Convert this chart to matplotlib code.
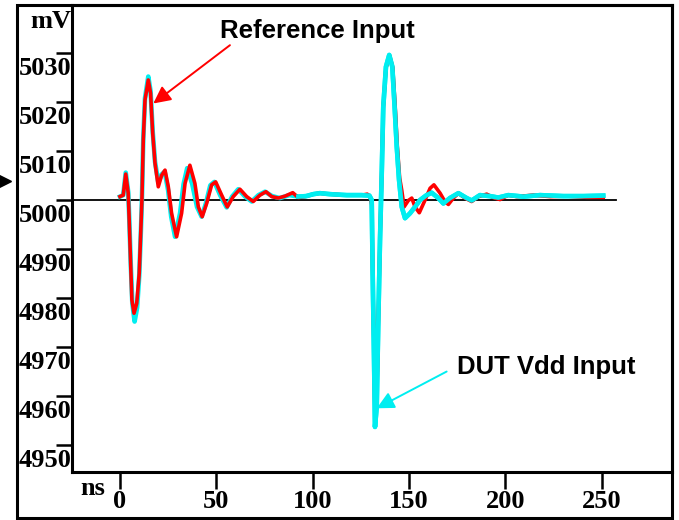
import numpy as np
import matplotlib
matplotlib.use("Agg")
import matplotlib.pyplot as plt
from matplotlib import transforms
from matplotlib.patches import Rectangle


# reference input trace (red), ns / mV
t_ref = [0.0, 1.7, 3.0, 4.3, 4.8, 5.6, 6.2, 7.3, 8.7, 10.0, 10.9, 11.4, 12.1, 13.0,
         14.7, 15.9, 17.0, 18.2, 19.9, 21.6, 23.4, 25.1, 26.8, 29.4, 32.0, 33.8, 36.3,
         38.9, 40.7, 42.7, 45.0, 47.6, 49.7, 52.8, 55.7, 58.8, 62.3, 65.8, 69.2, 72.7,
         75.8, 78.8, 82.2, 85.7, 89.7, 92.6, 96.1, 100.4, 103.8, 109.0, 117.7, 125.5,
         128.4, 130.0, 130.7, 131.2, 131.9, 132.4, 133.3, 134.1, 135.0, 135.9, 136.7,
         138.1, 140.0, 141.6, 142.9, 144.0, 145.2, 146.3, 147.5, 149.7, 151.5, 153.2,
         155.4, 158.4, 161.0, 163.0, 166.2, 168.7, 170.5, 173.1, 175.7, 179.1, 182.6,
         186.0, 190.4, 193.8, 197.3, 201.6, 206.0, 214.6, 223.3, 231.9, 242.3, 250.9]
v_ref = [5000.7, 5001.0, 5005.3, 5001.4, 4995.9, 4986.4, 4979.6, 4976.9, 4978.9, 4985.0,
         4994.6, 5000.0, 5012.2, 5020.4, 5024.5, 5021.8, 5013.6, 5007.5, 5002.7, 5005.0,
         5006.1, 5002.7, 4997.3, 4992.5, 4997.3, 5003.4, 5007.1, 5003.4, 4998.6, 4996.6,
         4999.3, 5003.1, 5003.7, 5001.0, 4998.6, 5000.7, 5002.2, 5000.7, 4999.7, 5001.0,
         5001.7, 5000.7, 5000.4, 5000.8, 5001.5, 5000.5, 5000.7, 5001.2, 5001.4, 5001.2,
         5001.0, 5001.0, 5001.2, 5000.6, 4999.0, 4986.0, 4969.0, 4955.5, 4958.5, 4974.8,
         4991.8, 5005.4, 5019.0, 5027.0, 5029.4, 5027.0, 5019.0, 5010.9, 5004.5, 5002.0,
         4998.6, 4999.9, 5000.4, 4998.6, 4997.4, 5000.0, 5002.4, 5003.1, 5001.4, 4999.7,
         4999.1, 5000.4, 5001.4, 5000.4, 4999.7, 5000.7, 5001.2, 5000.5, 5000.1, 5001.0,
         5000.7, 5001.0, 5000.7, 5000.8, 5000.55, 5000.55]

# DUT Vdd input trace (cyan)
t_dut = [0.0, 1.7, 3.0, 4.3, 4.8, 5.6, 6.4, 7.6, 8.9, 10.0, 10.9, 11.4, 12.1, 13.0,
         14.7, 15.9, 17.0, 18.2, 19.9, 21.6, 23.2, 25.0, 26.6, 28.6, 31.2, 33.0, 34.9,
         37.5, 40.0, 42.4, 44.6, 46.9, 49.0, 52.0, 55.4, 58.2, 61.4, 65.0, 68.4, 71.9,
         75.3, 79.0, 83.0, 88.0, 92.6, 96.7, 100.4, 103.8, 109.0, 117.7, 125.5, 129.5,
         130.7, 131.2, 131.9, 132.4, 133.3, 134.1, 135.0, 135.9, 136.7, 138.1, 139.8,
         141.4, 142.6, 143.7, 144.9, 146.3, 148.0, 150.6, 153.2, 155.8, 159.2, 161.8,
         165.3, 167.9, 171.3, 175.7, 180.0, 182.6, 186.9, 192.1, 196.4, 201.6, 209.4,
         218.1, 230.2, 240.6, 250.9]
v_dut = [5000.7, 5001.0, 5005.6, 5001.6, 4996.5, 4987.0, 4979.0, 4975.2, 4978.0, 4984.5,
         4994.0, 5000.0, 5012.5, 5020.8, 5025.2, 5022.2, 5014.0, 5007.8, 5003.6, 5005.2,
         5005.8, 5002.0, 4996.6, 4992.5, 4997.3, 5003.2, 5006.5, 5003.3, 4998.6, 4996.6,
         4999.3, 5003.0, 5003.7, 5001.0, 4998.5, 5000.7, 5002.2, 5000.7, 4999.7, 5001.0,
         5001.7, 5000.8, 5000.4, 5001.0, 5000.7, 5000.8, 5001.2, 5001.4, 5001.2, 5001.0,
         5001.0, 5000.9, 5000.0, 4985.1, 4968.0, 4953.7, 4957.8, 4974.8, 4991.8, 5005.4,
         5019.0, 5027.2, 5029.6, 5027.2, 5019.0, 5010.9, 5004.1, 4998.6, 4996.3, 4997.3,
         4998.6, 5000.0, 5001.0, 5001.5, 5000.4, 4999.3, 5000.4, 5001.4, 5000.4, 4999.9,
         5001.0, 5000.8, 5000.5, 5001.0, 5000.7, 5001.0, 5000.8, 5000.8, 5000.9]

x_ticks = [0, 50, 100, 150, 200, 250]
y_ticks = [4950, 4960, 4970, 4980, 4990, 5000, 5010, 5020, 5030]
baseline = 5000
trigger_level = 5003.8

RED = '#ff0000'
CYAN = '#00eef0'
serif = dict(family='Liberation Serif', weight='bold', size=19)
sans = dict(family='Liberation Sans', weight='bold', size=18.5)

W, H = 679, 520
fig = plt.figure(figsize=(W / 100, H / 100), dpi=100)
ax = fig.add_axes([72 / W, (H - 472) / H, 600 / W, 467 / H])
ax.set_xlim(-24.9, 286.6)
ax.set_ylim(4944.5, 5039.8)

for s in ax.spines.values():
    s.set_linewidth(2.2)

# outer frame around the label strips
fig.add_artist(Rectangle((17 / W, 2 / H), 655 / W, 513 / H, fill=False,
                         lw=2.2, ec='black', transform=fig.transFigure))

ax.axhline(baseline, xmin=0, xmax=0.907, color='black', lw=1.3, zorder=1)

t_dut_a = np.asarray(t_dut)
v_dut_a = np.asarray(v_dut)
late = t_dut_a >= 89

ax.plot(t_dut, v_dut, color=CYAN, lw=3.3, zorder=2, solid_joinstyle='round')
ax.plot(t_ref, v_ref, color=RED, lw=2.6, zorder=3, solid_joinstyle='round')
ax.plot(t_dut_a[late], v_dut_a[late], color=CYAN, lw=3.3, zorder=4,
        solid_joinstyle='round')

# axes ticks
ax.set_xticks(x_ticks)
ax.set_xticklabels([str(v) for v in x_ticks], fontdict=serif)
ax.tick_params(axis='x', direction='out', length=12, width=1.8, pad=1)
ax.set_yticks(y_ticks)
ax.set_yticklabels([])
ax.tick_params(axis='y', direction='out', length=11.5, width=1.8)

for v in y_ticks:
    ax.annotate(str(v), xy=(0, v), xycoords=('axes fraction', 'data'),
                xytext=(-0.5, -3), textcoords='offset points',
                ha='right', va='top', **serif)

fig.text(71 / W, 1 - 10 / H, 'mV', ha='right', va='top', **serif)
fig.text(80 / W, 1 - 495 / H, 'ns', ha='left', va='baseline', **serif)

# trigger marker on the left edge
ax.plot([-0.112], [trigger_level], marker='>', ms=8, color='black',
        transform=transforms.blended_transform_factory(ax.transAxes, ax.transData),
        clip_on=False)

arrow = dict(arrowstyle='-|>', lw=1.4, mutation_scale=26, shrinkA=0, shrinkB=0)
ax.text(102.7, 5033.0, 'Reference Input', ha='center', va='baseline', **sans)
ax.annotate('', xy=(17.3, 5019.7), xytext=(57.1, 5031.6),
            arrowprops=dict(color=RED, **arrow))
ax.annotate('', xy=(133.3, 4957.5), xytext=(169.6, 4965.0),
            arrowprops=dict(color=CYAN, **arrow))
ax.text(221.5, 4964.6, 'DUT Vdd Input', ha='center', va='baseline', **sans)

fig.savefig('out.png', dpi=100)
